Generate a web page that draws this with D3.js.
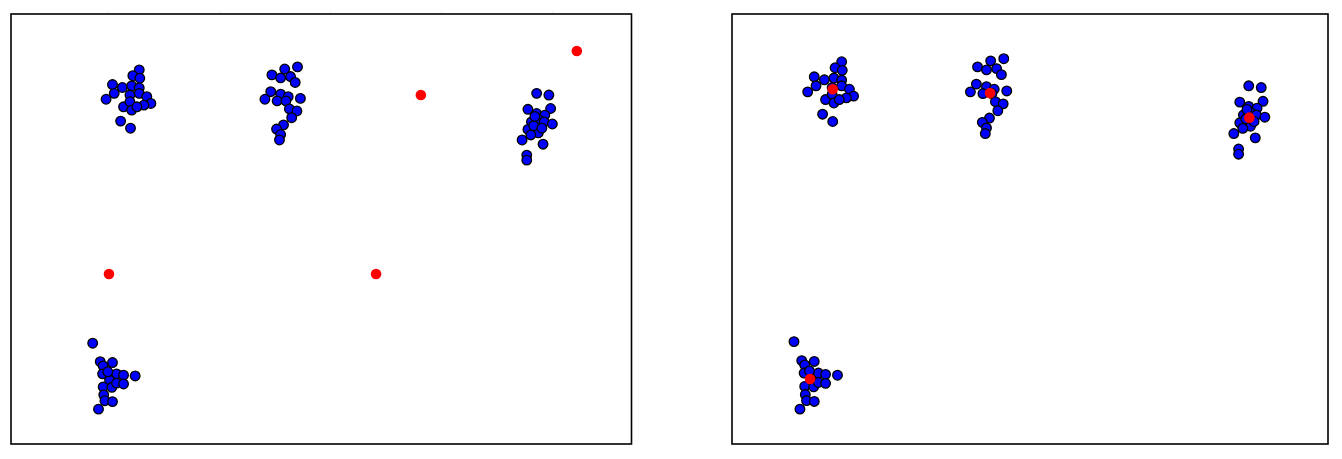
<!DOCTYPE html>
<html>
<head>
<meta charset="utf-8">
<script src="https://cdn.jsdelivr.net/npm/d3@7"></script>
<style>
html,body{margin:0;padding:0;background:#fff;}
svg{display:block;}
</style>
</head>
<body>
<svg id="chart" width="1342" height="459"></svg>
<script>
// Blue data points (x, y) in data units, grouped by cluster
const cluster1 = [
  [1.84,8.89],[1.73,8.75],[1.85,8.69],[1.38,8.54],[1.55,8.47],[1.71,8.51],[1.84,8.46],
  [1.41,8.33],[1.68,8.29],[1.84,8.33],[1.97,8.25],[1.27,8.19],[2.04,8.09],[1.57,8.01],
  [1.68,8.13],[1.71,7.93],[1.92,8.05],[1.80,8.01],[1.52,7.67],[1.69,7.50]
];
const cluster2 = [
  [4.56,8.96],[4.34,8.91],[4.12,8.77],[4.27,8.70],[4.44,8.73],[4.52,8.59],[4.10,8.37],
  [4.27,8.31],[4.40,8.25],[4.00,8.19],[4.21,8.15],[4.36,8.15],[4.61,8.21],[4.42,7.96],
  [4.55,7.91],[4.46,7.75],[4.32,7.58],[4.20,7.48],[4.27,7.35],[4.25,7.22]
];
const cluster3 = [
  [1.04,2.38],[1.17,1.94],[1.22,1.84],[1.38,1.92],[1.21,1.65],[1.45,1.65],[1.77,1.60],
  [1.57,1.62],[1.33,1.50],[1.22,1.34],[1.37,1.33],[1.45,1.43],[1.57,1.41],[1.23,1.15],
  [1.25,1.01],[1.38,0.99],[1.14,0.81],[1.30,1.70]
];
const cluster4 = [
  [8.67,8.33],[8.88,8.29],[8.52,7.95],[8.91,7.97],[8.67,7.85],[8.81,7.81],[8.70,7.71],
  [8.58,7.65],[8.80,7.65],[8.94,7.60],[8.52,7.47],[8.70,7.39],[8.57,7.34],[8.42,7.22],
  [8.78,7.12],[8.50,6.86],[8.50,6.74],[8.62,7.56],[8.76,7.50],[8.64,7.78]
];
// Red centroids: initial (left panel) and final (right panel)
const initialCentroids = [[1.32,4.03],[5.91,4.03],[6.68,8.29],[9.36,9.34]];
const finalCentroids = [[1.69,8.25],[4.33,8.16],[1.31,1.51],[8.68,7.59]];
// Faint top tick positions on the left panel
const leftTicks = [1.30,3.21,5.12,7.03,8.94];

const points = [].concat(cluster1, cluster2, cluster3, cluster4);

const svg = d3.select("#chart");

const panels = [
  {left:11, top:14, width:620.5, height:430, xDomain:[-0.364,10.30], yDomain:[-0.02,10.22], centroids:initialCentroids, ticks:leftTicks},
  {left:732, top:14, width:596, height:430, xDomain:[0,10], yDomain:[0,10], centroids:finalCentroids, ticks:[]}
];

panels.forEach(p => {
  const g = svg.append("g").attr("transform", `translate(${p.left},${p.top})`);
  const x = d3.scaleLinear().domain(p.xDomain).range([0, p.width]);
  const y = d3.scaleLinear().domain(p.yDomain).range([p.height, 0]);

  if (p.ticks.length) {
    const ax = d3.axisTop(x).tickValues(p.ticks).tickSize(2).tickFormat("");
    const ag = g.append("g").call(ax);
    ag.select(".domain").remove();
    ag.selectAll("line").attr("stroke", "#e4e4e4");
  }

  g.selectAll("circle.pt").data(points).enter().append("circle")
    .attr("class","pt")
    .attr("cx", d => x(d[0]))
    .attr("cy", d => y(d[1]))
    .attr("r", 4.8)
    .attr("fill", "#0000ff")
    .attr("stroke", "#000")
    .attr("stroke-width", 1.3);

  g.selectAll("circle.cen").data(p.centroids).enter().append("circle")
    .attr("class","cen")
    .attr("cx", d => x(d[0]))
    .attr("cy", d => y(d[1]))
    .attr("r", 5.3)
    .attr("fill", "#ff0000");

  g.append("rect")
    .attr("x", 0).attr("y", 0)
    .attr("width", p.width).attr("height", p.height)
    .attr("fill", "none")
    .attr("stroke", "#000")
    .attr("stroke-width", 1.6);
});
</script>
</body>
</html>
